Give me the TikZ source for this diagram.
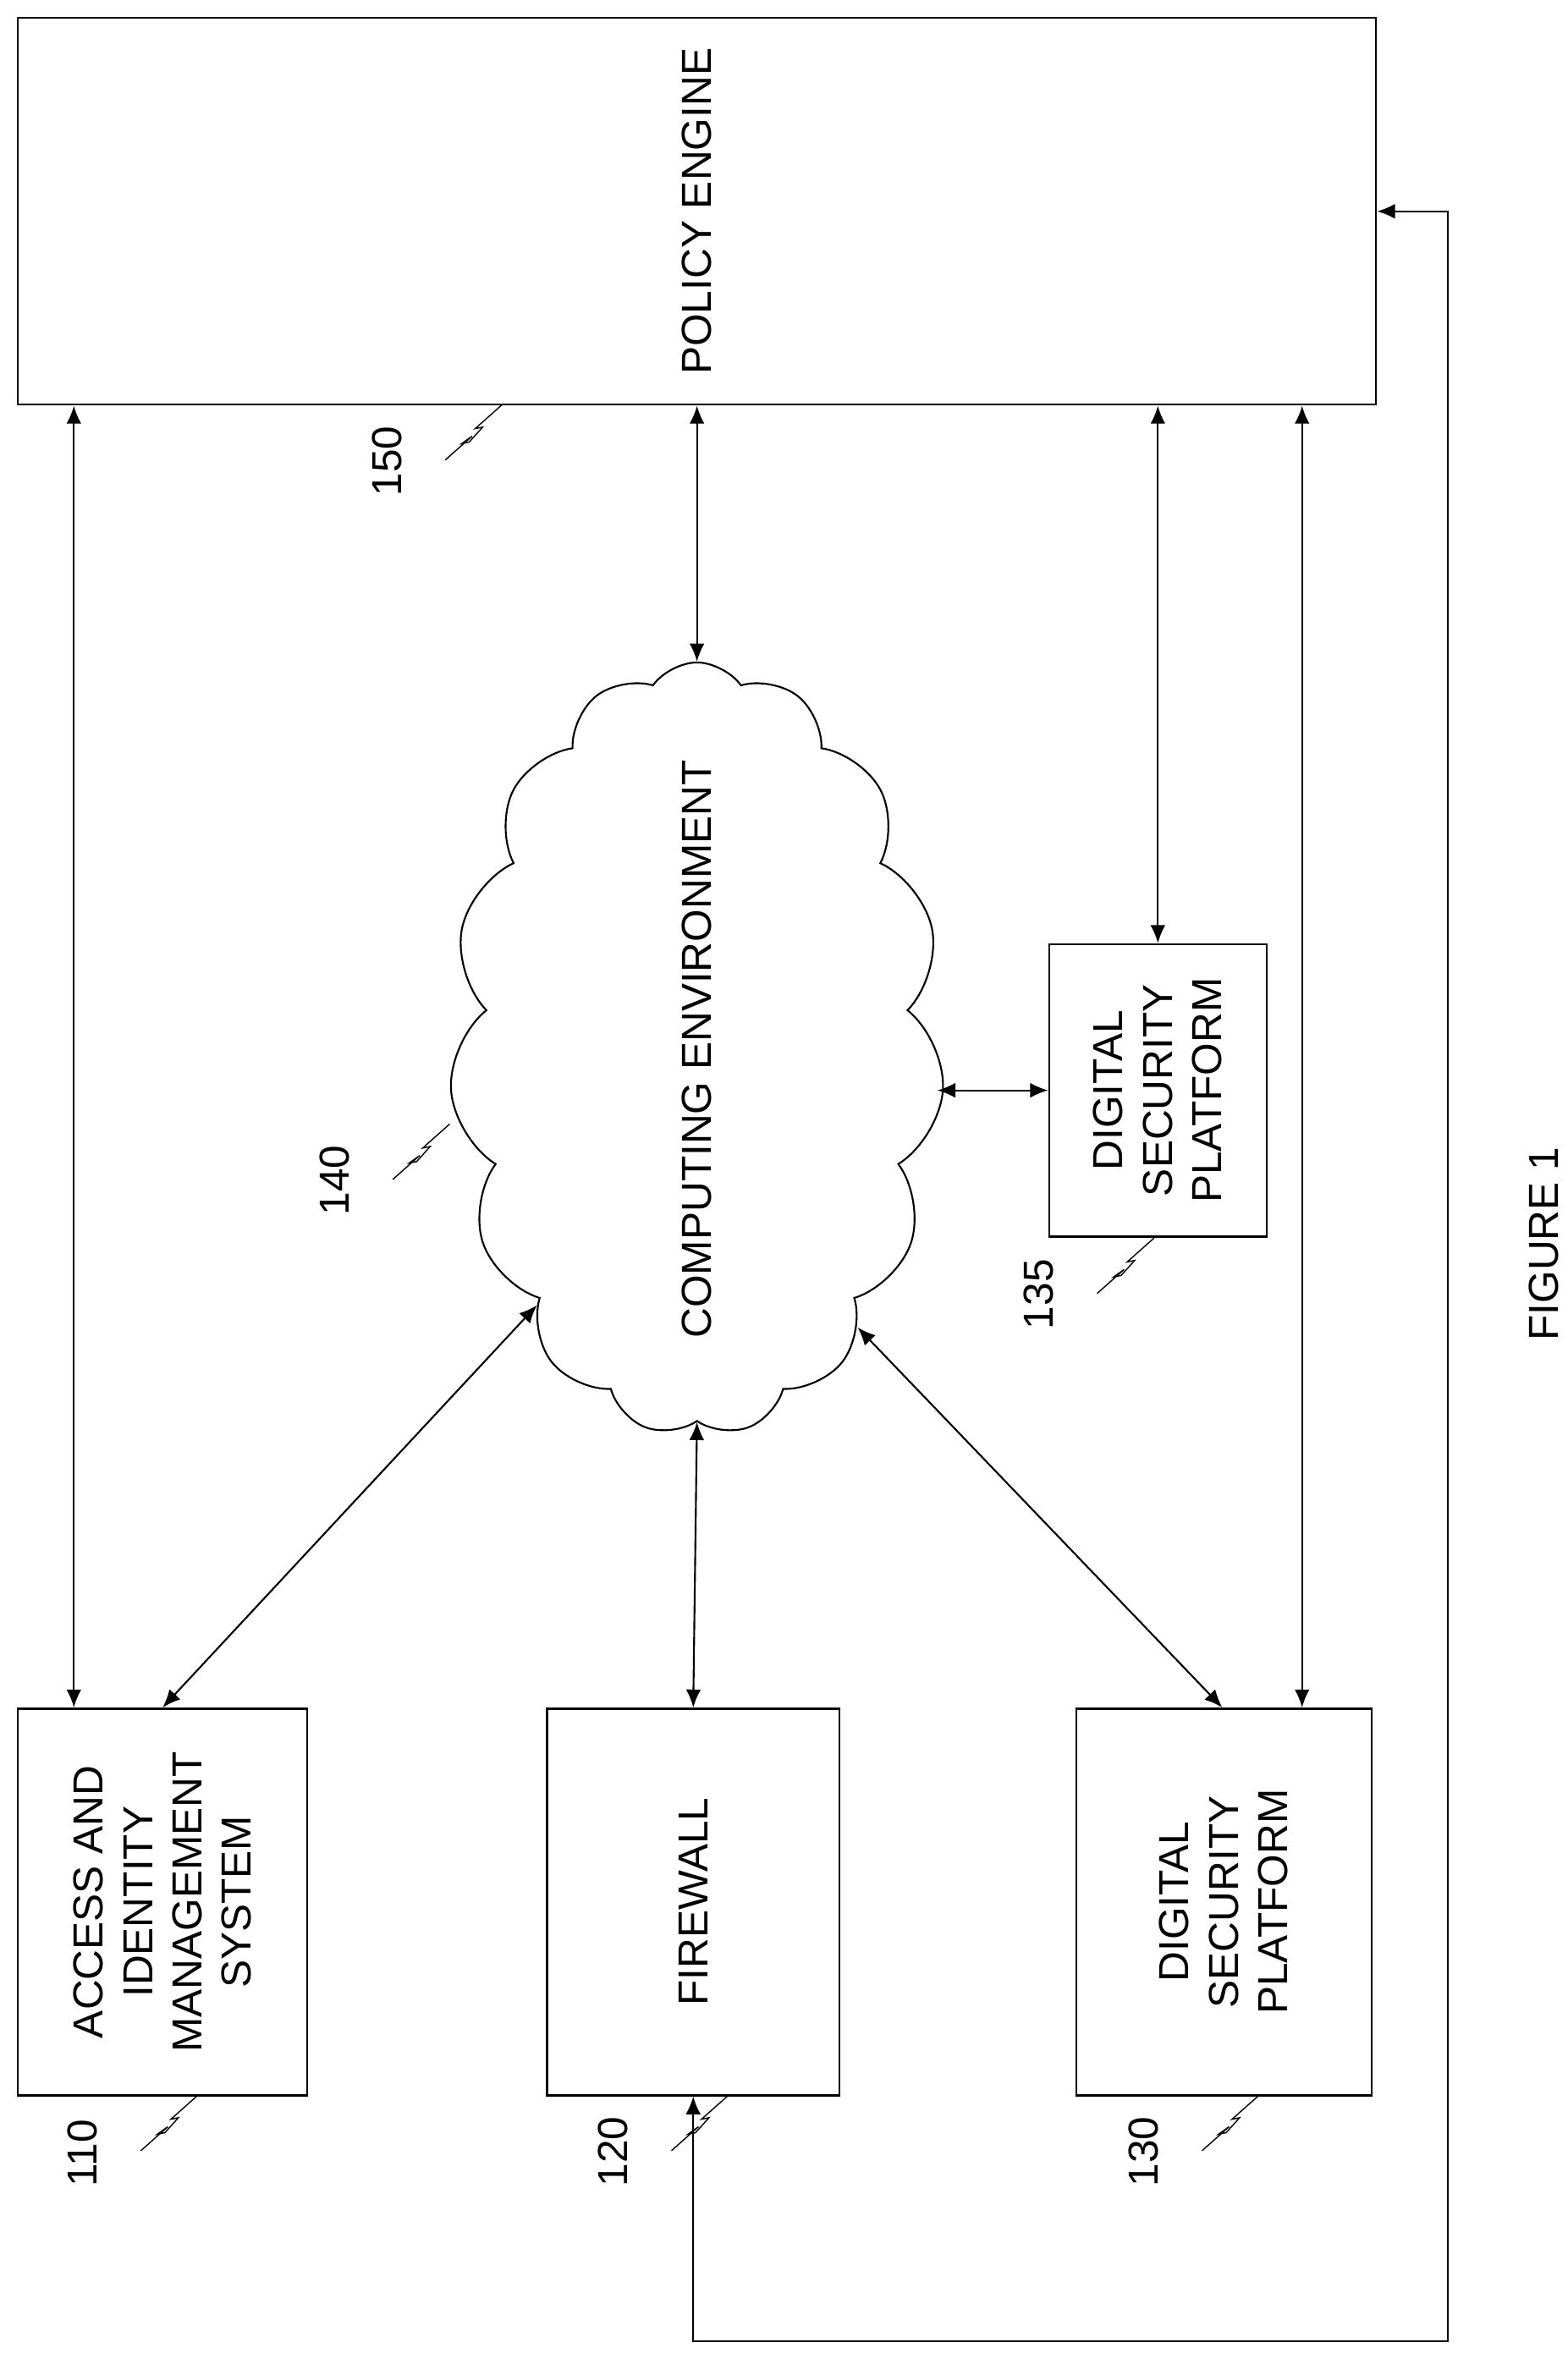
\documentclass[tikz,border=0pt]{standalone}
\usepackage{fontspec}
\setmainfont{Liberation Sans}
\usetikzlibrary{shapes.symbols,arrows.meta}
\begin{document}
\begin{tikzpicture}[x=0.5pt,y=-0.5pt,
  lbl/.style={font=\fontsize{14}{16.5}\selectfont,rotate=90,align=center},
  box/.style={draw,line width=0.7pt,rectangle,inner sep=0pt},
  dbl/.style={{Latex[length=6pt,width=5pt]}-{Latex[length=6pt,width=5pt]},line width=0.6pt},
  ldr/.style={line width=0.4pt}]
\useasboundingbox (0,0) rectangle (1046,1574);
\node[box,minimum width=453pt,minimum height=129pt] (pe) at (465,141) {};
\node[lbl] (pet) at (465,141) {POLICY ENGINE};
\node[box,minimum width=96.5pt,minimum height=129pt] (aim) at (108.5,1269) {};
\node[lbl] (aimt) at (108.5,1269) {ACCESS AND\\IDENTITY\\MANAGEMENT\\SYSTEM};
\node[box,minimum width=97.5pt,minimum height=129pt] (fw) at (462.5,1269) {};
\node[lbl] (fwt) at (462.5,1269) {FIREWALL};
\node[box,minimum width=98.5pt,minimum height=129pt] (dsp) at (816.5,1269) {};
\node[lbl] (dspt) at (816.5,1269) {DIGITAL\\SECURITY\\PLATFORM};
\node[box,minimum width=72.5pt,minimum height=97.5pt] (dsq) at (772.5,727.5) {};
\node[lbl] (dsqt) at (772.5,727.5) {DIGITAL\\SECURITY\\PLATFORM};
\node[draw,line width=0.6pt,cloud,cloud puffs=15,cloud puff arc=110,cloud ignores aspect,minimum width=165pt,minimum height=258pt,inner sep=0pt] (cl) at (465,700) {};
\node[lbl] (clt) at (465,700) {COMPUTING ENVIRONMENT};
% connectors
\draw[dbl] ([xshift=19pt]aim.north west |- pe.south) -- ([xshift=19pt]aim.north west);
\draw[dbl] (pe.south) -- (cl.north);
\draw[dbl] (dsq.north |- pe.south) -- (dsq.north);
\draw[dbl] ([xshift=-23.5pt]dsp.north east |- pe.south) -- ([xshift=-23.5pt]dsp.north east);
\draw[dbl] (cl.east |- dsq.west) -- (dsq.west);
\draw[dbl] (aim.north) -- (cl.238);
\draw[dbl] (fw.north) -- (cl.south);
\draw[dbl] ([xshift=-0.5pt]dsp.north) -- (cl.300);
\coordinate (c2) at (966,1562);
\draw[dbl] (pe.east) -| (c2) -| (fw.south);
% reference labels
\foreach \n/\x/\y in {110/132/1398,120/486/1398,130/840/1398,150/335/270,140/300/750,135/770/826}{
  \draw[ldr] (\x,\y) -- ++(-18,16) -- ++(5,-1) -- ++(-9,10) -- ++(-5,1) -- ++(7,-5) -- ++(-18,16);
  \node[lbl,anchor=south west] (r\n) at (\x-60,\y+68) {\n};
}
\node[lbl] (fig) at (1030,830) {FIGURE 1};
\end{tikzpicture}
\end{document}
